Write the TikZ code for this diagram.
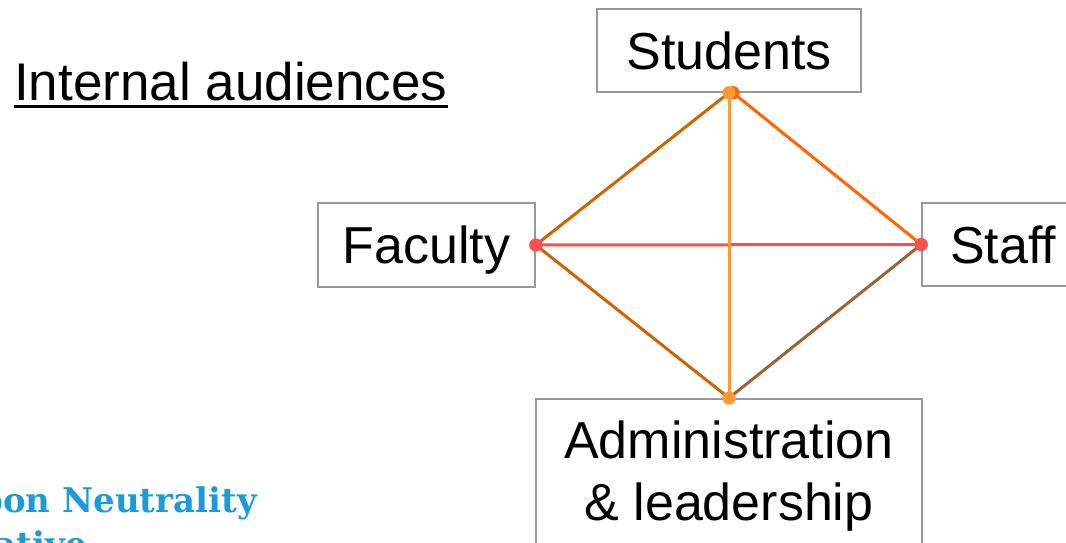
\documentclass[tikz,border=0pt]{standalone}
\usepackage{fontspec}
\setmainfont{Liberation Sans}
\newfontfamily\brandfont{DejaVu Serif}
\definecolor{boxgray}{HTML}{999999}
\definecolor{darkorange}{HTML}{CC6600}
\definecolor{brightorange}{HTML}{FF6600}
\definecolor{lightorange}{HTML}{FF9933}
\definecolor{coral}{HTML}{FF5050}
\definecolor{brownline}{HTML}{996633}
\definecolor{brandblue}{HTML}{1B9BD7}
\tikzset{
  audience/.style={draw=boxgray, line width=1.5pt, fill=white, inner sep=0pt,
    font=\fontsize{52}{62}\selectfont, text height=37.5pt, text depth=0pt},
  link/.style={line width=3pt},
  dot/.style={circle, inner sep=0pt, minimum size=13pt},
  brand/.style={inner sep=0pt, text=brandblue, font=\brandfont\bfseries\fontsize{34}{44}\selectfont},
}
\begin{document}
\begin{tikzpicture}[x=1pt, y=-1pt]
  \useasboundingbox (0,0) rectangle (1066,543);
  \clip (0,0) rectangle (1066,543);

  % title with underline
  \node[anchor=base west, inner sep=0pt, font=\fontsize{53}{63}\selectfont] (title) at (14,100) {Internal audiences};
  \draw[line width=3pt] ([yshift=-6pt]title.base west) -- ([yshift=-6pt]title.base east);

  % audience boxes
  \node[audience, minimum width=264pt, minimum height=83pt] (stu) at (729,50.5) {Students};
  \node[audience, minimum width=217pt, minimum height=84pt] (fac) at (426.5,245) {Faculty};
  \node[audience, minimum width=162pt, minimum height=83pt] (sta) at (1003,244.5) {Staff};
  \node[draw=boxgray, line width=1.5pt, fill=white, anchor=north, minimum width=386pt,
        inner ysep=22pt, align=center, font=\fontsize{52}{62}\selectfont] (adm) at (729,398)
        {Administration\\\& leadership};

  % connection points on the box borders
  \node[dot, fill=brightorange] (dS2) at ([xshift=4pt]stu.south) {};
  \node[dot, fill=lightorange] (dS) at (stu.south) {};
  \node[dot, fill=coral] (dF) at (fac.east) {};
  \node[dot, fill=coral] (dT) at (sta.west) {};
  \node[dot, fill=lightorange] (dA) at (adm.north) {};

  % links between audiences
  \draw[link, darkorange] (dF.center) -- (dS.center);
  \draw[link, brightorange] (dS2.center) -- (dT.center);
  \draw[link, coral] (dF.center) -- (dT.center);
  \draw[link, lightorange] (dS.center) -- (dA.center);
  \draw[link, darkorange] (dF.center) -- (dA.center);
  \draw[link, brownline] (dT.center) -- (dA.center);

  % dots drawn again on top of the links
  \fill[brightorange] (dS2) circle (6.5pt);
  \fill[lightorange] (dS) circle (6.5pt);
  \fill[coral] (dF) circle (6.5pt);
  \fill[coral] (dT) circle (6.5pt);
  \fill[lightorange] (dA) circle (6.5pt);

  % brand text
  \node[brand, anchor=base east] (cn1) at (257,512) {Carbon Neutrality};
  \node[brand, anchor=base west] (cn2) at ([yshift=-44pt]cn1.base west) {Initiative};
\end{tikzpicture}
\end{document}
